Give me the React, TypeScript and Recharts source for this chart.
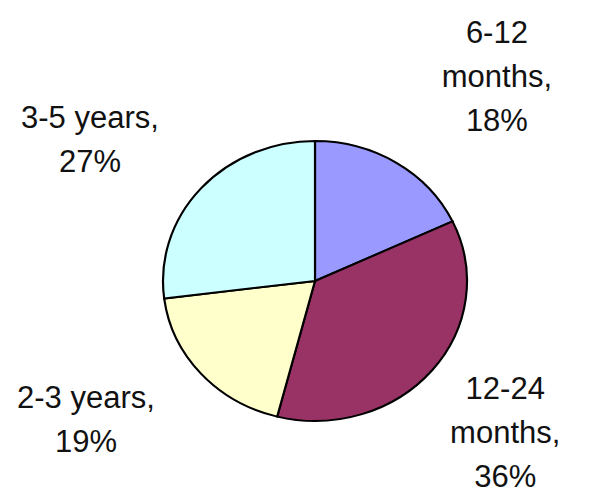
import React from 'react';
import { PieChart, Pie, Cell } from 'recharts';

const categories = ['6-12 months', '12-24 months', '2-3 years', '3-5 years'];
const shares = [18, 36, 19, 27];
const labelLines = [['6-12', 'months,'], ['12-24', 'months,'], ['2-3 years,'], ['3-5 years,']];
const colors = ['#9999ff', '#993366', '#ffffcc', '#ccffff'];

// label nudges (dx, dy) on top of the radial placement
const labelNudge = [[19, -16], [-44, 8], [-1, -10], [3, 6]];

const W = 590;
const H = 493;
const CX = 315;
const CY = 281;
const R = 140;
const SX = 152 / 140; // pie is a bit wider than tall
const FONT = 31;
const LINE = 44;

const data = categories.map((name, i) => ({ name, value: shares[i], idx: i }));

const renderLabel = (props: any) => {
  const { midAngle, payload, percent } = props;
  const i = payload.idx ?? payload.payload?.idx;
  const rad = (midAngle * Math.PI) / 180;
  // target screen position
  const sxPos = CX + 2.0 * R * SX * Math.cos(rad) + labelNudge[i][0];
  const syPos = CY - 1.6 * R * Math.sin(rad) + labelNudge[i][1];
  const lines = [...labelLines[i], `${Math.round(percent * 100)}%`];
  const firstBase = syPos - ((lines.length - 1) * LINE) / 2 + FONT * 0.36;
  // undo the horizontal stretch of the svg
  const x = CX + (sxPos - CX) / SX;
  return (
    <g transform={`translate(${x},0) scale(${1 / SX},1)`}>
      {lines.map((t, k) => (
        <text
          key={k}
          x={0}
          y={firstBase + k * LINE}
          textAnchor="middle"
          fill="#111"
          fontSize={FONT}
          fontFamily="'Liberation Sans', Arial, sans-serif"
        >
          {t}
        </text>
      ))}
    </g>
  );
};

export default function App() {
  return (
    <div style={{ position: 'absolute', left: 0, top: 0, width: W, height: H, background: '#fff', overflow: 'hidden' }}>
      <div style={{ width: W, height: H, transform: `scaleX(${SX})`, transformOrigin: `${CX}px 0` }}>
        <PieChart width={W} height={H} margin={{ top: 0, right: 0, bottom: 0, left: 0 }}>
          <Pie
            data={data}
            dataKey="value"
            nameKey="name"
            cx={CX}
            cy={CY}
            outerRadius={R}
            startAngle={90}
            endAngle={-270}
            stroke="#000"
            strokeWidth={2}
            label={renderLabel}
            labelLine={false}
            isAnimationActive={false}
          >
            {data.map((d, i) => (
              <Cell key={d.name} fill={colors[i]} />
            ))}
          </Pie>
        </PieChart>
      </div>
    </div>
  );
}
